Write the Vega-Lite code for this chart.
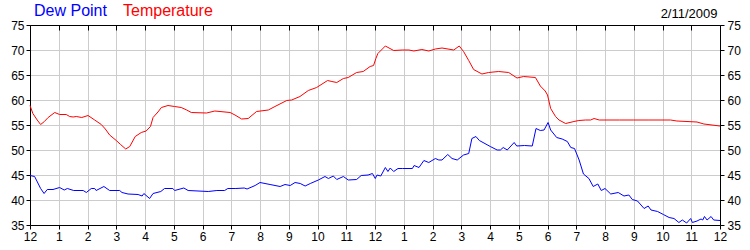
{
  "$schema": "https://vega.github.io/schema/vega-lite/v6.json",
  "width": 690,
  "height": 200,
  "autosize": {"type": "none"},
  "padding": {"left": 30, "top": 25, "right": 30, "bottom": 25},
  "background": "white",
  "datasets": {
    "t": [
      {"h":0,"v":58.9},{"h":0.1,"v":57.3},{"h":0.25,"v":56.0},{"h":0.37,"v":55.1},{"h":0.5,"v":55.7},{"h":0.63,"v":56.5},{"h":0.86,"v":57.5},{"h":1.03,"v":57.1},{"h":1.26,"v":57.1},{"h":1.38,"v":56.7},{"h":1.5,"v":56.6},{"h":1.61,"v":56.7},{"h":1.8,"v":56.5},{"h":2.02,"v":56.9},{"h":2.25,"v":56.0},{"h":2.48,"v":55.1},{"h":2.62,"v":54.2},{"h":2.77,"v":53.0},{"h":3.0,"v":51.9},{"h":3.15,"v":51.1},{"h":3.33,"v":50.2},{"h":3.47,"v":50.7},{"h":3.66,"v":52.7},{"h":3.87,"v":53.5},{"h":4.04,"v":53.8},{"h":4.19,"v":54.7},{"h":4.28,"v":56.5},{"h":4.45,"v":57.6},{"h":4.57,"v":58.5},{"h":4.8,"v":58.9},{"h":5.03,"v":58.7},{"h":5.26,"v":58.5},{"h":5.45,"v":58.0},{"h":5.61,"v":57.5},{"h":6.14,"v":57.4},{"h":6.43,"v":57.8},{"h":6.96,"v":57.5},{"h":7.13,"v":57.0},{"h":7.36,"v":56.2},{"h":7.59,"v":56.3},{"h":7.88,"v":57.7},{"h":8.29,"v":58.0},{"h":8.52,"v":58.7},{"h":8.93,"v":59.9},{"h":9.1,"v":60.0},{"h":9.39,"v":60.7},{"h":9.68,"v":61.9},{"h":9.97,"v":62.5},{"h":10.35,"v":63.9},{"h":10.5,"v":63.7},{"h":10.67,"v":63.5},{"h":10.9,"v":64.3},{"h":11.07,"v":64.5},{"h":11.36,"v":65.5},{"h":11.59,"v":65.7},{"h":11.83,"v":66.7},{"h":11.95,"v":66.9},{"h":12.03,"v":68.3},{"h":12.1,"v":69.3},{"h":12.36,"v":70.8},{"h":12.65,"v":69.9},{"h":12.95,"v":70.0},{"h":13.18,"v":70.0},{"h":13.35,"v":69.8},{"h":13.63,"v":70.1},{"h":13.87,"v":69.8},{"h":14.1,"v":70.2},{"h":14.33,"v":70.4},{"h":14.74,"v":70.0},{"h":14.93,"v":70.8},{"h":15.08,"v":69.7},{"h":15.26,"v":67.9},{"h":15.43,"v":66.1},{"h":15.72,"v":65.2},{"h":15.95,"v":65.5},{"h":16.3,"v":65.7},{"h":16.65,"v":65.5},{"h":16.94,"v":64.4},{"h":17.17,"v":64.7},{"h":17.58,"v":64.5},{"h":17.75,"v":62.8},{"h":17.92,"v":61.8},{"h":18.0,"v":61.0},{"h":18.11,"v":58.3},{"h":18.28,"v":56.7},{"h":18.4,"v":56.0},{"h":18.63,"v":55.3},{"h":18.92,"v":55.7},{"h":19.09,"v":55.9},{"h":19.33,"v":56.0},{"h":19.5,"v":56.0},{"h":19.62,"v":56.3},{"h":19.8,"v":56.0},{"h":20.5,"v":56.0},{"h":21.0,"v":56.0},{"h":21.5,"v":56.0},{"h":22.28,"v":56.0},{"h":22.5,"v":55.8},{"h":23.2,"v":55.6},{"h":23.44,"v":55.2},{"h":24,"v":54.8}
    ],
    "d": [
      {"h":0,"v":44.9},{"h":0.16,"v":44.7},{"h":0.37,"v":42.3},{"h":0.49,"v":41.3},{"h":0.6,"v":42.1},{"h":0.8,"v":42.1},{"h":1.03,"v":42.5},{"h":1.19,"v":42.0},{"h":1.3,"v":42.3},{"h":1.52,"v":41.9},{"h":1.85,"v":41.9},{"h":1.96,"v":41.5},{"h":2.13,"v":42.3},{"h":2.25,"v":42.3},{"h":2.3,"v":41.9},{"h":2.57,"v":42.7},{"h":2.77,"v":41.9},{"h":3.12,"v":41.9},{"h":3.2,"v":41.5},{"h":3.41,"v":41.2},{"h":3.76,"v":41.1},{"h":3.9,"v":40.8},{"h":3.96,"v":41.3},{"h":4.16,"v":40.3},{"h":4.28,"v":41.3},{"h":4.55,"v":41.7},{"h":4.68,"v":42.3},{"h":4.97,"v":42.3},{"h":5.03,"v":41.9},{"h":5.35,"v":42.4},{"h":5.5,"v":41.9},{"h":6.2,"v":41.7},{"h":6.5,"v":41.9},{"h":6.77,"v":41.9},{"h":6.88,"v":42.3},{"h":7.16,"v":42.3},{"h":7.45,"v":42.4},{"h":7.55,"v":42.2},{"h":7.83,"v":42.9},{"h":8.0,"v":43.5},{"h":8.35,"v":43.1},{"h":8.7,"v":42.7},{"h":8.87,"v":43.1},{"h":9.05,"v":42.9},{"h":9.22,"v":43.5},{"h":9.4,"v":43.3},{"h":9.57,"v":42.8},{"h":9.75,"v":43.3},{"h":10.03,"v":44.0},{"h":10.26,"v":44.7},{"h":10.38,"v":44.3},{"h":10.55,"v":44.8},{"h":10.67,"v":44.1},{"h":10.9,"v":44.7},{"h":11.07,"v":44.0},{"h":11.36,"v":44.1},{"h":11.52,"v":44.9},{"h":11.76,"v":45.0},{"h":11.91,"v":45.3},{"h":12.01,"v":44.3},{"h":12.07,"v":45.0},{"h":12.2,"v":44.8},{"h":12.36,"v":46.5},{"h":12.45,"v":45.7},{"h":12.53,"v":46.4},{"h":12.65,"v":45.7},{"h":12.8,"v":46.3},{"h":12.95,"v":46.3},{"h":13.3,"v":46.3},{"h":13.36,"v":46.9},{"h":13.53,"v":46.5},{"h":13.7,"v":47.9},{"h":13.87,"v":47.5},{"h":14.1,"v":48.3},{"h":14.22,"v":48.0},{"h":14.33,"v":48.0},{"h":14.53,"v":49.1},{"h":14.68,"v":48.3},{"h":14.86,"v":48.0},{"h":15.08,"v":49.0},{"h":15.26,"v":49.3},{"h":15.37,"v":52.3},{"h":15.51,"v":52.7},{"h":15.63,"v":51.9},{"h":16.01,"v":50.7},{"h":16.25,"v":50.0},{"h":16.36,"v":50.0},{"h":16.46,"v":50.5},{"h":16.6,"v":50.0},{"h":16.84,"v":51.5},{"h":16.93,"v":50.8},{"h":17.2,"v":50.9},{"h":17.47,"v":50.8},{"h":17.6,"v":54.3},{"h":17.75,"v":53.9},{"h":17.88,"v":54.0},{"h":18.02,"v":55.5},{"h":18.11,"v":54.0},{"h":18.32,"v":52.5},{"h":18.51,"v":52.2},{"h":18.69,"v":51.7},{"h":18.81,"v":50.5},{"h":18.94,"v":50.3},{"h":19.1,"v":48.0},{"h":19.25,"v":45.2},{"h":19.44,"v":44.3},{"h":19.59,"v":42.7},{"h":19.75,"v":43.2},{"h":19.87,"v":41.9},{"h":20.0,"v":42.3},{"h":20.2,"v":41.2},{"h":20.46,"v":41.5},{"h":20.66,"v":40.8},{"h":20.83,"v":41.0},{"h":20.95,"v":40.1},{"h":21.13,"v":39.8},{"h":21.36,"v":38.3},{"h":21.5,"v":38.8},{"h":21.6,"v":38.0},{"h":21.83,"v":37.7},{"h":22.03,"v":37.1},{"h":22.23,"v":36.5},{"h":22.4,"v":36.3},{"h":22.57,"v":35.5},{"h":22.69,"v":36.0},{"h":22.84,"v":35.4},{"h":22.98,"v":36.3},{"h":23.04,"v":35.5},{"h":23.2,"v":35.8},{"h":23.34,"v":36.2},{"h":23.4,"v":36.0},{"h":23.46,"v":36.7},{"h":23.55,"v":36.0},{"h":23.69,"v":36.7},{"h":23.78,"v":36.0},{"h":24,"v":35.9}
    ]
  },
  "config": {
    "view": {"stroke": null},
    "axis": {"labelFont": "Liberation Sans", "labelFontSize": 12, "labelColor": "#000", "domainColor": "#000", "tickColor": "#000", "gridColor": "#cccccc"}
  },
  "layer": [
    {
      "data": {"name": "d"},
      "transform": [{"calculate": "'Dew Point'", "as": "s"}],
      "mark": {"type": "line", "strokeWidth": 1},
      "encoding": {
        "x": {"field": "h", "type": "quantitative", "title": null, "scale": {"domain": [0, 24], "nice": false}, "axis": {"orient": "bottom", "values": [0,1,2,3,4,5,6,7,8,9,10,11,12,13,14,15,16,17,18,19,20,21,22,23,24], "labelExpr": "datum.value % 12 == 0 ? '12' : '' + (datum.value % 12)", "tickSize": 4, "labelPadding": 2, "grid": true, "labelFlush": false, "labelOverlap": false}},
        "y": {"field": "v", "type": "quantitative", "title": null, "scale": {"domain": [35, 75], "nice": false, "zero": false}, "axis": {"orient": "left", "values": [35,40,45,50,55,60,65,70,75], "tickSize": 4, "labelPadding": 2, "grid": true}},
        "color": {"field": "s", "type": "nominal", "scale": {"domain": ["Dew Point", "Temperature"], "range": ["#0000ff", "#ff0000"]}, "legend": {"orient": "none", "legendX": -12, "legendY": -22, "direction": "horizontal", "title": null, "symbolType": "circle", "symbolSize": 1, "symbolStrokeWidth": 0, "symbolOpacity": 0, "labelOffset": 0, "labelFontSize": 16, "labelFont": "Liberation Sans", "columnPadding": -2, "padding": 0, "encode": {"labels": {"update": {"fill": {"scale": "color", "field": "value"}}}}}}
      }
    },
    {
      "data": {"name": "t"},
      "transform": [{"calculate": "'Temperature'", "as": "s"}],
      "mark": {"type": "line", "strokeWidth": 1},
      "encoding": {
        "x": {"field": "h", "type": "quantitative", "title": "2/11/2009", "axis": {"orient": "top", "values": [0,1,2,3,4,5,6,7,8,9,10,11,12,13,14,15,16,17,18,19,20,21,22,23,24], "labels": false, "tickSize": -5, "grid": false, "titleFont": "Liberation Sans", "titleFontSize": 13, "titleFontWeight": "normal", "titleColor": "#000", "titleAlign": "right", "titleAnchor": "end", "titleBaseline": "alphabetic", "titleX": 687, "titleY": -8}},
        "y": {"field": "v", "type": "quantitative", "title": null, "axis": {"orient": "right", "values": [35,40,45,50,55,60,65,70,75], "tickSize": 4, "labelPadding": 3, "grid": false}},
        "color": {"field": "s", "type": "nominal"}
      }
    }
  ],
  "resolve": {"axis": {"x": "independent", "y": "independent"}}
}
